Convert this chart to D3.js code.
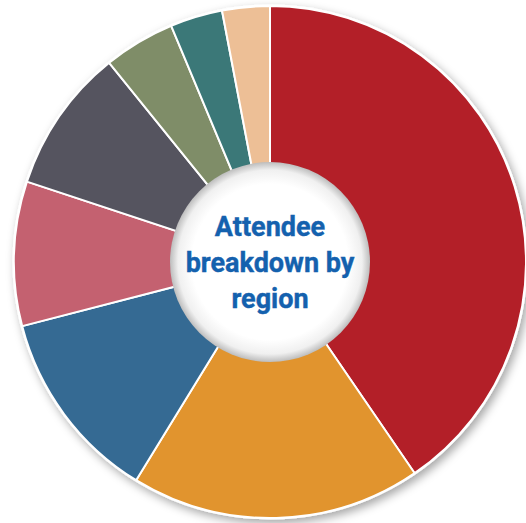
<!DOCTYPE html>
<html>
<head>
<meta charset="utf-8">
<script src="https://cdn.jsdelivr.net/npm/d3@7"></script>
<style>
  html, body { margin: 0; padding: 0; background: #ffffff; }
  svg { display: block; }
</style>
</head>
<body>
<svg id="chart" width="526" height="523"></svg>
<script>
// Data (shares in %, read clockwise from 12 o'clock)
const categories = ["Region 1", "Region 2", "Region 3", "Region 4", "Region 5", "Region 6", "Region 7", "Region 8"];
const values = [40.4, 18.3, 12.2, 9.1, 9.1, 4.5, 3.3, 3.0];
const colors = ["#B31F28", "#E1942E", "#356A93", "#C46170", "#55545F", "#7F8D68", "#3B7878", "#EDBF96"];
const titleLines = ["Attendee", "breakdown by", "region"];

const svg = d3.select("#chart");
const cx = 270, cy = 262;
const outerR = 256, innerR = 100;

const defs = svg.append("defs");
const shadow = defs.append("filter").attr("id", "drop")
  .attr("x", "-20%").attr("y", "-20%").attr("width", "140%").attr("height", "140%");
shadow.append("feDropShadow").attr("dx", 3).attr("dy", 4).attr("stdDeviation", 5)
  .attr("flood-color", "#000").attr("flood-opacity", 0.35);

const holeGrad = defs.append("radialGradient").attr("id", "hole");
holeGrad.append("stop").attr("offset", "78%").attr("stop-color", "#ffffff");
holeGrad.append("stop").attr("offset", "92%").attr("stop-color", "#f0f0f0");
holeGrad.append("stop").attr("offset", "100%").attr("stop-color", "#bdbdbd");

const g = svg.append("g").attr("transform", `translate(${cx},${cy})`);

const pie = d3.pie().sort(null).value(d => d.value);
const arc = d3.arc().innerRadius(0).outerRadius(outerR);

const data = categories.map((c, i) => ({ name: c, value: values[i], color: colors[i] }));

// outer white ring with shadow
g.append("circle").attr("r", outerR + 1.5).attr("fill", "#ffffff").attr("filter", "url(#drop)");

g.selectAll("path.slice")
  .data(pie(data))
  .join("path")
  .attr("class", "slice")
  .attr("d", arc)
  .attr("fill", d => d.data.color)
  .attr("stroke", "#ffffff")
  .attr("stroke-width", 2)
  .attr("stroke-linejoin", "round");

// center hole
g.append("circle").attr("r", innerR).attr("fill", "url(#hole)");

const lineH = 36;
g.selectAll("text.title")
  .data(titleLines)
  .join("text")
  .attr("class", "title")
  .attr("x", 0)
  .attr("y", (d, i) => -26 + (i) * lineH)
  .attr("text-anchor", "middle")
  .attr("font-family", "Roboto, 'Open Sans', sans-serif")
  .attr("font-weight", "bold")
  .attr("font-size", 27)
  .attr("fill", "#1461AE")
  .attr("stroke", "#1461AE")
  .attr("stroke-width", 0.4)
  .text(d => d);
</script>
</body>
</html>
